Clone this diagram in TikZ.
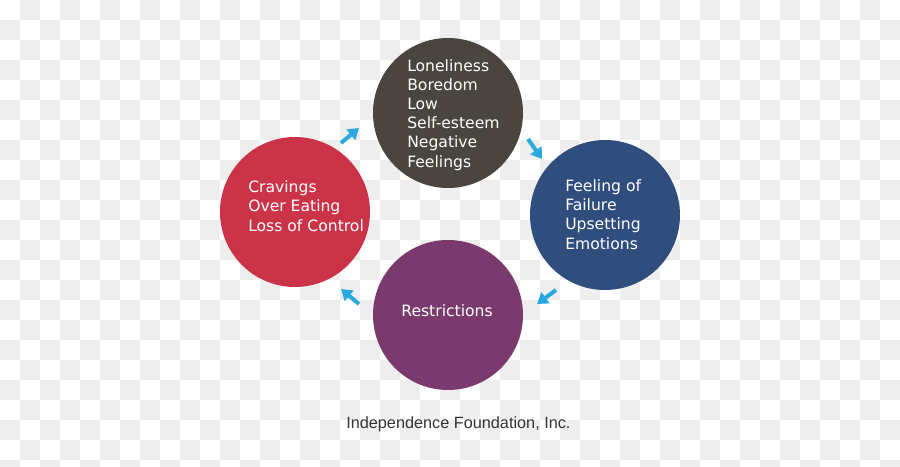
\documentclass[tikz,border=0pt]{standalone}
\usepackage{fontspec}
\setmainfont{DejaVu Sans}
\newfontfamily\footfont{Liberation Sans}
\usetikzlibrary{arrows.meta}
\definecolor{chk}{HTML}{EEEEEE}
\definecolor{ctop}{HTML}{4A463F}
\definecolor{cright}{HTML}{2F4E7E}
\definecolor{cbottom}{HTML}{7A3A6E}
\definecolor{cleft}{HTML}{CB3448}
\definecolor{carrow}{HTML}{2AA9E0}
\definecolor{cfoot}{HTML}{333333}
\tikzset{
  bubble/.style={circle, minimum size=112.5pt, inner sep=0pt, draw=none},
  label text/.style={text=white, font=\fontsize{11.7}{14.3}\selectfont, align=left, inner sep=0pt},
  flow/.style={carrow, line width=3pt, -{Triangle[width=10pt,length=8pt]}}
}
\begin{document}
\begin{tikzpicture}[x=0.75pt,y=-0.75pt]
\useasboundingbox (0,0) rectangle (900,467);
\fill[white] (0,0) rectangle (900,467);
\foreach \i in {0,...,44}{
  \foreach \j in {0,...,23}{
    \pgfmathtruncatemacro\sq{\i+\j}
    \ifodd\sq\relax
      \fill[chk] (20*\i,20*\j) rectangle (20*\i+20,20*\j+20);
    \fi
  }
}
% circles
\node[bubble, fill=ctop] (top) at (448,113) {};
\node[bubble, fill=cright] (right) at (605,215) {};
\node[bubble, fill=cbottom] (bottom) at (448,315) {};
\node[bubble, fill=cleft] (left) at (295,212) {};
% texts (anchored at baseline of last line)
\node[label text, anchor=base west] (ttop) at (407,167) {Loneliness\\Boredom\\Low\\Self-esteem\\Negative\\Feelings};
\node[label text, anchor=base west] (tright) at (565,249) {Feeling of\\Failure\\Upsetting\\Emotions};
\node[label text, anchor=base west] (tleft) at (248,231) {Cravings\\Over Eating\\Loss of Control};
\node[label text, anchor=base] (tbottom) at (447,316) {Restrictions};
% arrows
\coordinate (a1s) at (341,143); \coordinate (a1e) at (359,128);
\coordinate (a2s) at (528,139); \coordinate (a2e) at (542,159);
\coordinate (a3s) at (556,290); \coordinate (a3e) at (537,304);
\coordinate (a4s) at (359,304); \coordinate (a4e) at (341,289);
\draw[flow] (a1s) -- (a1e);
\draw[flow] (a2s) -- (a2e);
\draw[flow] (a3s) -- (a3e);
\draw[flow] (a4s) -- (a4e);
% footer
\node[anchor=base west, inner sep=0pt, text=cfoot, font=\footfont\fontsize{12.2}{14}\selectfont] (foot) at (346,428) {Independence Foundation, Inc.};
\end{tikzpicture}
\end{document}
